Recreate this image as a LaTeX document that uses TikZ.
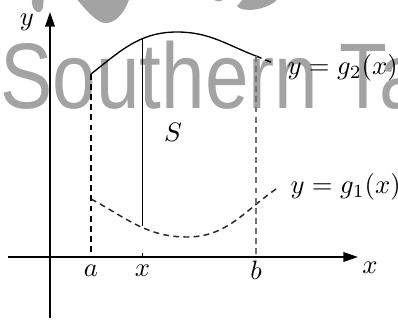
\documentclass[tikz,border=0pt]{standalone}
\usepackage{fontspec}
\newfontfamily\wmfont{Liberation Sans}
\usepackage{graphicx}
\usetikzlibrary{arrows.meta}
\definecolor{wmgray}{RGB}{163,163,163}

\begin{document}
\begin{tikzpicture}[
    x=0.132cm, y=0.132cm,
    axis/.style={-{Triangle[width=3.6pt,length=5.5pt]}, line width=0.6pt},
    curve/.style={line width=0.5pt},
    guide/.style={dash pattern=on 2.2pt off 1.6pt, line width=0.55pt},
    lbl/.style={inner sep=0pt}
]
\useasboundingbox (-5,-6.3) rectangle (34.8,25.7);

% watermark behind the figure
\begin{scope}
\clip (-5,-6.3) rectangle (34.8,25.7);
\node[anchor=base west, inner sep=0pt, text=wmgray, font=\wmfont\fontsize{35}{40}\selectfont] (wm) at (-5,14.9) {\scalebox{0.84}[1]{Southern Ta}};
\fill[wmgray] (-1.8,26) .. controls (-1.9,24.8) and (-1.4,24.4) .. (-1.0,24.5) .. controls (-0.6,24.7) and (-0.6,25.6) .. (-0.7,26) -- cycle;
\fill[wmgray] (2.5,26) .. controls (3.5,24.8) and (4.5,23.6) .. (5.4,23.4) .. controls (6.4,23.3) and (7.4,24.2) .. (8,26) -- cycle;
\fill[wmgray] (16.2,26) .. controls (16.4,25.4) and (17.3,25.4) .. (17.5,26) -- cycle;
\fill[wmgray] (18.7,25.1) .. controls (19,24.6) and (20.5,24.6) .. (21.5,25.0) .. controls (22.3,25.3) and (22.7,25.6) .. (22.8,26) -- (19.5,26) -- cycle;
\end{scope}

% points on the axes and curves
\coordinate (xs) at (-4.2,0);
\coordinate (xe) at (30.8,0);
\coordinate (ys) at (0,-6.1);
\coordinate (ye) at (0,24.5);
\coordinate (a) at (4.1,0);
\coordinate (xx) at (9.25,0);
\coordinate (b) at (20.6,0);
\coordinate (ga2) at (4.1,18.3);
\coordinate (gx2) at (9.25,21.85);
\coordinate (gm2) at (12.7,22.5);
\coordinate (gb2) at (20.6,20.1);
\coordinate (ge2) at (22.3,19.4);
\coordinate (ga1) at (4.1,5.8);
\coordinate (gx1) at (9.25,3.1);
\coordinate (gm1) at (13.7,2.0);
\coordinate (ge1) at (22.6,6.8);

% axes
\draw[axis] (xs) -- (xe);
\draw[axis] (ys) -- (ye);
\draw[line width=0.5pt] (xx) -- ++(0,0.4);

% curves
\draw[curve] (ga2) to[out=38,in=180] (gm2) to[out=0,in=159] (gb2);
\draw[curve, guide] (gb2) -- (ge2);
\draw[guide, black!85] (ga1) to[out=-28,in=180] (gm1) to[out=0,in=215] (ge1);

% bounds and slice
\draw[guide] (ga2) -- (a);
\draw[guide, black!55] (gb2) -- (b);
\draw[curve] (gx2) -- (gx1);

% labels
\node[lbl] (ly) at (-2.3,23.5) {$y$};
\node[lbl] (lx) at (32,-1.1) {$x$};
\node[lbl] (la) at (4.1,-1.35) {$a$};
\node[lbl] (lxx) at (9.25,-1.4) {$x$};
\node[lbl] (lb) at (20.6,-1.3) {$b$};
\node[lbl] (ls) at (12.3,12.5) {$S$};
\node[lbl, anchor=west] (lg2) at (23.7,18.9) {$y=g_2(x)$};
\node[lbl, anchor=west] (lg1) at (24.0,7.0) {$y=g_1(x)$};
\end{tikzpicture}
\end{document}
